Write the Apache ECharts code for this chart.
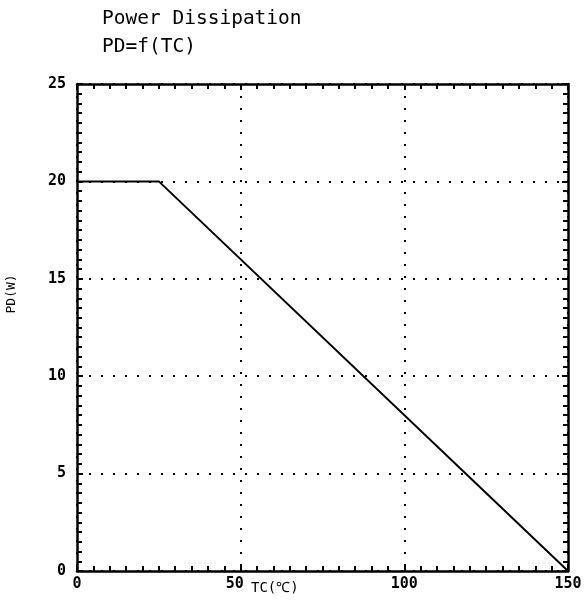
<!DOCTYPE html>
<html><head><meta charset="utf-8">
<script src="https://cdn.jsdelivr.net/npm/echarts@6/dist/echarts.min.js"></script>
<style>html,body{margin:0;padding:0;background:#fff}#c{width:587px;height:612px}</style>
</head><body><div id="c"></div>
<script>
var tcValues = [0, 25, 150];
var pdValues = [20, 20, 0];
var xTicks = [0, 50, 100, 150];
var yTicks = [0, 5, 10, 15, 20, 25];
var titleLines = ["Power Dissipation", "PD=f(TC)"];
var xName = "TC(℃)";
var yName = "PD(W)";

var chart = echarts.init(document.getElementById('c'));
var font = 'DejaVu Sans Mono';
function axisBase(extra){
  var base = {
    axisLine: {show: true, onZero: false, lineStyle: {color: '#000', width: 2.5}},
    axisTick: {show: true, inside: true, length: 6, lineStyle: {color: '#000', width: 2}},
    minorTick: {show: true, splitNumber: 10, length: 5, lineStyle: {color: '#000', width: 2}},
    minorSplitLine: {show: false}
  };
  return Object.assign(base, extra);
}
var dotted = {show: true, lineStyle: {color: '#000', type: [2, 10], width: 2}};
var labelStyle = {color: '#000', fontFamily: font, fontSize: 15, fontWeight: 'bold'};
var option = {
  animation: false,
  backgroundColor: '#fff',
  title: {
    text: titleLines.join('\n'), left: 97, top: 0,
    textStyle: {fontFamily: font, fontSize: 19.5, fontWeight: 'normal', color: '#000', lineHeight: 28}
  },
  grid: {left: 77, right: 19, top: 84, bottom: 41},
  xAxis: [
    axisBase({type: 'value', min: xTicks[0], max: xTicks[xTicks.length-1], interval: 50, position: 'bottom',
      axisLabel: Object.assign({margin: 6,
        formatter: function(v){ return v === 50 ? '{s|' + v + '}' : String(v); },
        rich: {s: {color: '#000', fontFamily: font, fontSize: 15, fontWeight: 'bold', padding: [0, 12, 0, 0]}}
      }, labelStyle),
      splitLine: dotted}),
    axisBase({type: 'value', min: xTicks[0], max: xTicks[xTicks.length-1], interval: 50, position: 'top',
      axisLabel: {show: false}, splitLine: {show: false}})
  ],
  yAxis: [
    axisBase({type: 'value', min: yTicks[0], max: yTicks[yTicks.length-1], interval: 5, position: 'left',
      axisLabel: Object.assign({margin: 11}, labelStyle),
      splitLine: dotted}),
    axisBase({type: 'value', min: yTicks[0], max: yTicks[yTicks.length-1], interval: 5, position: 'right',
      axisLabel: {show: false}, splitLine: {show: false}})
  ],
  graphic: [
    {type: 'text', x: 12, y: 294, rotation: Math.PI/2,
      style: {text: yName, font: '13px ' + font, fill: '#000', align: 'center', verticalAlign: 'middle',
        textAlign: 'center', textVerticalAlign: 'middle'}},
    {type: 'text', left: 251, top: 581,
      style: {text: xName, font: '14px ' + font, fill: '#000'}}
  ],
  series: [{
    type: 'line', xAxisIndex: 0, yAxisIndex: 0, symbol: 'none',
    data: tcValues.map(function(v, i){ return [v, pdValues[i]]; }),
    lineStyle: {color: '#000', width: 2}
  }]
};
chart.setOption(option);
</script></body></html>
